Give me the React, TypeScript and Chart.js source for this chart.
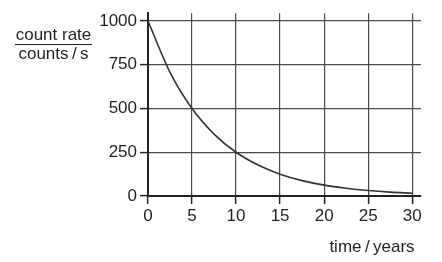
import React, { useEffect, useRef } from "react";
import { Chart, registerables } from "chart.js";

Chart.register(...registerables);

const times = [0, 2.5, 5, 7.5, 10, 12.5, 15, 17.5, 20, 22.5, 25, 27.5, 30];
const countRates = [1000, 707, 500, 354, 250, 177, 125, 88, 62, 44, 31, 22, 16];
const xTickValues = [0, 5, 10, 15, 20, 25, 30];
const yTickValues = [0, 250, 500, 750, 1000];
const yTitleTop = "count rate";
const yTitleBottom = "counts\u2009/\u2009s";
const xTitle = "time\u2009/\u2009years";

const FAMILY = '"Liberation Sans", Arial, sans-serif';
const INK = "#231f20";

const labelPlugin = {
  id: "fractionLabels",
  afterDraw(chart: any) {
    const ctx = chart.ctx;
    ctx.save();
    ctx.fillStyle = INK;
    ctx.font = "17px " + FAMILY;
    ctx.textAlign = "center";
    ctx.textBaseline = "middle";
    ctx.fillText(yTitleTop, 53.5, 35);
    ctx.fillText(yTitleBottom, 53.5, 54);
    ctx.strokeStyle = INK;
    ctx.lineWidth = 1.2;
    ctx.beginPath();
    ctx.moveTo(15, 44.5);
    ctx.lineTo(92, 44.5);
    ctx.stroke();
    ctx.fillText(xTitle, 372, 247);
    ctx.restore();
  },
};

export default function App() {
  const ref = useRef<HTMLCanvasElement | null>(null);
  useEffect(() => {
    document.body.style.margin = "0";
    const canvas = ref.current!;
    const chart = new Chart(canvas, {
      type: "line",
      data: {
        datasets: [
          {
            data: times.map((t, i) => ({ x: t, y: countRates[i] })),
            borderColor: "#333",
            borderWidth: 1.6,
            pointRadius: 0,
            cubicInterpolationMode: "monotone",
            fill: false,
          },
        ],
      },
      options: {
        animation: false,
        responsive: false,
        events: [],
        layout: { padding: { left: 0, top: 12, right: 21, bottom: 0 } },
        plugins: { legend: { display: false }, tooltip: { enabled: false } },
        scales: {
          x: {
            type: "linear",
            min: 0,
            max: 31,
            afterBuildTicks(scale: any) {
              scale.ticks = xTickValues.map((v) => ({ value: v }));
            },
            ticks: {
              color: INK,
              font: { family: FAMILY, size: 17 },
              padding: 2,
              maxRotation: 0,
              autoSkip: false,
              callback: (v: any) => String(v),
            },
            grid: { color: "#4a4a4a", lineWidth: 1.2, tickLength: 8, tickColor: "#222", tickWidth: 1.5 },
            border: { color: "#222", width: 2 },
            afterFit(scale: any) {
              scale.height = 66;
            },
          },
          y: {
            type: "linear",
            min: 0,
            max: 1045,
            afterBuildTicks(scale: any) {
              scale.ticks = yTickValues.map((v) => ({ value: v }));
            },
            ticks: {
              color: INK,
              font: { family: FAMILY, size: 17 },
              padding: 3,
              autoSkip: false,
              callback: (v: any) => String(v),
            },
            grid: { color: "#4a4a4a", lineWidth: 1.2, tickLength: 8, tickColor: "#222", tickWidth: 1.5 },
            border: { color: "#222", width: 2 },
            afterFit(scale: any) {
              scale.width = 148;
            },
          },
        },
      },
      plugins: [labelPlugin],
    } as any);
    return () => chart.destroy();
  }, []);
  return (
    <div style={{ width: 442, height: 262, background: "#fff" }}>
      <canvas ref={ref} width={442} height={262} style={{ display: "block" }} />
    </div>
  );
}
